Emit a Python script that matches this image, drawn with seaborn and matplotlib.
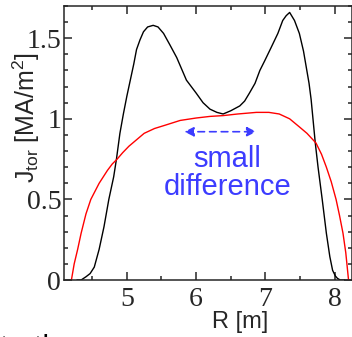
import numpy as np
import pandas as pd
import matplotlib
matplotlib.use("Agg")
import matplotlib.pyplot as plt
import seaborn as sns
from matplotlib.ticker import MultipleLocator

# Black profile (J_tor vs R)
R_black = [4.28, 4.34, 4.41, 4.47, 4.53, 4.60, 4.67, 4.74, 4.81, 4.85,
           4.90, 4.95, 5.00, 5.05, 5.10, 5.14, 5.19, 5.24, 5.30, 5.38,
           5.45, 5.53, 5.62, 5.72, 5.80, 5.86, 5.93, 6.00, 6.10, 6.20,
           6.30, 6.39, 6.50, 6.63, 6.70, 6.77, 6.85, 6.92, 6.99, 7.08,
           7.18, 7.25, 7.30, 7.35, 7.42, 7.49, 7.55, 7.59, 7.63, 7.66,
           7.72, 7.76, 7.82, 7.88, 7.93, 7.97, 8.01, 8.04, 8.08, 8.14]
J_black = [0.0, 0.0, 0.02, 0.04, 0.08, 0.19, 0.33, 0.50, 0.64, 0.75,
           0.91, 1.03, 1.14, 1.24, 1.34, 1.43, 1.49, 1.54, 1.57, 1.58,
           1.57, 1.53, 1.46, 1.38, 1.30, 1.24, 1.20, 1.16, 1.10, 1.06,
           1.04, 1.03, 1.05, 1.08, 1.11, 1.16, 1.22, 1.30, 1.36, 1.44,
           1.53, 1.61, 1.64, 1.66, 1.61, 1.53, 1.42, 1.32, 1.22, 1.12,
           0.85, 0.70, 0.50, 0.29, 0.145, 0.06, 0.025, 0.01, 0.0, 0.0]

# Red profile
R_red = [4.20, 4.24, 4.29, 4.34, 4.41, 4.48, 4.54, 4.60, 4.66, 4.72,
         4.79, 4.86, 4.94, 5.03, 5.14, 5.25, 5.40, 5.55, 5.77, 6.00,
         6.20, 6.39, 6.60, 6.87, 7.05, 7.20, 7.35, 7.49, 7.60, 7.73,
         7.81, 7.88, 7.95, 8.02, 8.07, 8.12, 8.16, 8.20]
J_red = [0.0, 0.10, 0.19, 0.29, 0.41, 0.50, 0.55, 0.60, 0.64, 0.68,
         0.72, 0.75, 0.79, 0.83, 0.87, 0.91, 0.94, 0.96, 0.99, 1.005,
         1.015, 1.02, 1.03, 1.04, 1.04, 1.03, 1.00, 0.95, 0.91, 0.85,
         0.78, 0.70, 0.61, 0.50, 0.40, 0.29, 0.17, 0.0]

x_ticks = [5, 6, 7, 8]
x_ticklabels = ["5", "6", "7", "8"]
y_ticks = [0, 0.5, 1, 1.5]
y_ticklabels = ["0", "0.5", "1", "1.5"]

annot_text = "small\ndifference"
arrow_span = [5.83, 6.87]
arrow_level = 0.92

sns.set_style("ticks")
plt.rcParams["font.family"] = ["Liberation Sans", "DejaVu Sans"]
plt.rcParams["mathtext.fontset"] = "custom"
plt.rcParams["mathtext.rm"] = "Liberation Sans"
plt.rcParams["mathtext.it"] = "Liberation Sans:italic"

fig = plt.figure(figsize=(3.52, 3.37), dpi=100)
W, H = 352, 337
ax = fig.add_axes([64 / W, (H - 280) / H, 288 / W, 274 / H])

df_b = pd.DataFrame({"R": R_black, "J": J_black})
df_r = pd.DataFrame({"R": R_red, "J": J_red})
sns.lineplot(data=df_b, x="R", y="J", sort=False, estimator=None,
             color="black", lw=1.0, ax=ax)
sns.lineplot(data=df_r, x="R", y="J", sort=False, estimator=None,
             color="#ff0000", lw=1.0, ax=ax)

ax.set_xlim(4.093, 8.25)
ax.set_ylim(0, 1.70)

for s in ax.spines.values():
    s.set_linewidth(1.1)
    s.set_visible(True)

ax.set_xticks(x_ticks)
ax.set_xticklabels(x_ticklabels, family="Liberation Serif", fontsize=20)
ax.set_yticks(y_ticks)
ax.set_yticklabels(y_ticklabels, family="Liberation Serif", fontsize=20)
ax.xaxis.set_minor_locator(MultipleLocator(0.5))
ax.yaxis.set_minor_locator(MultipleLocator(0.1))
ax.tick_params(which="both", direction="in", top=True, right=True, width=1.1)
ax.tick_params(which="major", length=6)
ax.tick_params(which="minor", length=3)
ax.tick_params(axis="x", which="major", pad=5)
ax.tick_params(axis="y", which="major", pad=2)

ax.set_xlabel("R [m]", fontsize=17)
ax.set_ylabel(r"J$_{\mathrm{tor}}$ [MA/m$^2$]", fontsize=18)
ax.xaxis.set_label_coords((240 - 64) / 288, (280 - 311) / 274)
ax.yaxis.set_label_coords((42 - 64) / 288, (280 - 118) / 274)

blue = "#3c3cff"
ax.annotate("", xy=(arrow_span[1], arrow_level), xytext=(arrow_span[0], arrow_level),
            arrowprops=dict(arrowstyle="<|-|>", linestyle=(0, (4, 3)), color=blue,
                            lw=1.2, mutation_scale=14, shrinkA=0, shrinkB=0))
ax.text(6.45, 0.665, annot_text, color=blue, fontsize=21, ha="center", va="center",
        linespacing=1.0)

fig.text(0.0, (H - 334) / H, "to the", fontsize=22, va="top", ha="left", color="black")

fig.savefig("out.png", dpi=100)
